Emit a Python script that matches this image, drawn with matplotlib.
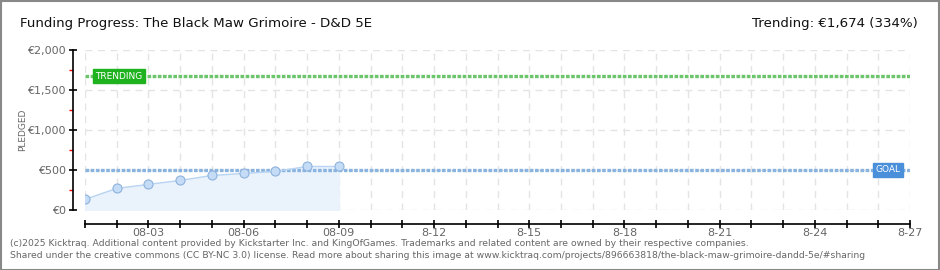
import matplotlib
matplotlib.use("Agg")
import matplotlib.pyplot as plt
import matplotlib.dates as mdates
import numpy as np
import pandas as pd

plt.rcParams['font.family'] = ['Liberation Sans Narrow', 'DejaVu Sans']

# data
days = pd.to_datetime(['2025-08-01', '2025-08-02', '2025-08-03', '2025-08-04', '2025-08-05',
                       '2025-08-06', '2025-08-07', '2025-08-08', '2025-08-09'])
pledged = [133, 270, 320, 370, 432, 457, 482, 544, 544]
goal = 500
trending = 1674
start_day = pd.Timestamp('2025-08-01')
end_day = pd.Timestamp('2025-08-27')
tick_days = pd.date_range('2025-08-03', '2025-08-27', freq='3D')
tick_labels = ['08-03', '08-06', '08-09', '8-12', '8-15', '8-18', '8-21', '8-24', '8-27']
y_ticks = [0, 500, 1000, 1500, 2000]
y_tick_labels = ['€0', '€500', '€1,000', '€1,500', '€2,000']
title = 'Funding Progress: The Black Maw Grimoire - D&D 5E'
trend_text = 'Trending: €1,674 (334%)'
footer = ['(c)2025 Kicktraq. Additional content provided by Kickstarter Inc. and KingOfGames. Trademarks and related content are owned by their respective companies.',
          'Shared under the creative commons (CC BY-NC 3.0) license. Read more about sharing this image at www.kicktraq.com/projects/896663818/the-black-maw-grimoire-dandd-5e/#sharing']

W, H = 940, 270
fig = plt.figure(figsize=(W / 100, H / 100), dpi=100)
fig.patch.set_facecolor('white')

# outer frame
fig.add_artist(plt.Rectangle((0.5 / W, 0.5 / H), 1 - 1.5 / W, 1 - 1.5 / H, transform=fig.transFigure,
                             fill=False, edgecolor='#888888', linewidth=1.5))

ax = fig.add_axes([85 / W, (H - 210) / H, 825 / W, 160 / H])
ax.set_xlim(start_day, end_day)
ax.set_ylim(0, 2000)

# grid
all_days = pd.date_range(start_day, end_day, freq='D')
for d in all_days:
    ax.axvline(d, color='#e4e4e4', linewidth=1, linestyle=(0, (5, 4)), zorder=0)
for v in y_ticks:
    ax.axhline(v, color='#e4e4e4', linewidth=1, linestyle=(0, (5, 4)), zorder=0)

# data
ax.fill_between(days, pledged, 0, color='#eaf2fc', zorder=1)
ax.plot(days, pledged, color='#b8d4f2', linewidth=1, zorder=3)
ax.plot(days, pledged, linestyle='none', marker='o', markersize=6.5, markerfacecolor='#c4dcf6',
        markeredgecolor='#8eb2dc', markeredgewidth=0.8, zorder=4)

# goal / trending lines
ax.axhline(goal, color='#8ab4e0', linewidth=2.4, linestyle=(0, (1.1, 0.45)), zorder=2)
ax.axhline(trending, color='#6cc46c', linewidth=2.4, linestyle=(0, (1.1, 0.45)), zorder=2)

ax.text(pd.Timestamp('2025-08-01 08:00'), trending, 'TRENDING', color='white', fontsize=6.5,
        family='DejaVu Sans', ha='left', va='center', zorder=5,
        bbox=dict(boxstyle='square,pad=0.25', facecolor='#1fb21f', edgecolor='#1fb21f'))
ax.text(pd.Timestamp('2025-08-25 22:00'), goal, 'GOAL', color='white', fontsize=6.5,
        family='DejaVu Sans', ha='left', va='center', zorder=5,
        bbox=dict(boxstyle='square,pad=0.3', facecolor='#4a8fda', edgecolor='#4a8fda'))

# spines / ticks
for s in ['top', 'right']:
    ax.spines[s].set_visible(False)
ax.spines['left'].set_position(('outward', 9))
ax.spines['bottom'].set_position(('outward', 10))
ax.spines['left'].set_linewidth(1.2)
ax.spines['bottom'].set_linewidth(1.2)

ax.set_yticks(y_ticks)
ax.set_yticklabels(y_tick_labels)
ax.set_yticks([250, 750, 1250, 1750], minor=True)
ax.tick_params(axis='y', which='major', direction='inout', length=6, width=1.2, colors='black',
               labelcolor='#666666', labelsize=8, pad=2)
ax.tick_params(axis='y', which='minor', direction='out', length=3, width=1, colors='red')

ax.xaxis.set_minor_locator(mdates.DayLocator())
ax.set_xticks(tick_days)
ax.set_xticklabels(tick_labels)
ax.tick_params(axis='x', which='both', direction='inout', length=6, width=1.2, colors='black',
               labelcolor='#666666', labelsize=8, pad=0)

ax.set_ylabel('PLEDGED', color='#666666', fontsize=6.5, family='DejaVu Sans')
ax.yaxis.set_label_coords(-58 / 825, 0.5)

# titles and footer
fig.text(20 / W, 1 - 24 / H, title, fontsize=9.6, color='#111111', ha='left', va='center')
fig.text(918 / W, 1 - 24 / H, trend_text, fontsize=9.6, color='#111111', ha='right', va='center')
fig.text(10 / W, 1 - 243 / H, footer[0], fontsize=6.65, color='#666666', ha='left', va='center')
fig.text(10 / W, 1 - 256 / H, footer[1], fontsize=6.65, color='#666666', ha='left', va='center')

fig.savefig('out.png', dpi=100, facecolor='white')
